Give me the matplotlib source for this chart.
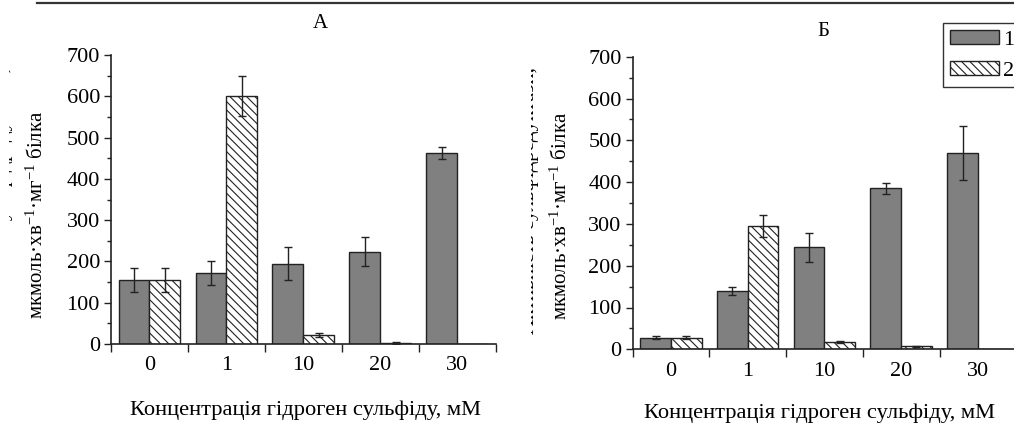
import matplotlib
matplotlib.use('Agg')
import matplotlib.pyplot as plt
from matplotlib.transforms import Bbox, TransformedBbox
from matplotlib.lines import Line2D
from matplotlib.patches import Patch
from matplotlib.ticker import MultipleLocator
import numpy as np

# ---------------- data ----------------
categories = ['0', '1', '10', '20', '30']
a_s1 = [155, 171, 194, 223, 463]
a_s1_err = [29, 29, 40, 35, 15]
a_s2 = [155, 601, 21, 3, 0]
a_s2_err = [29, 48, 5, 2, 0]
b_s1 = [28, 140, 244, 385, 470]
b_s1_err = [4, 10, 35, 14, 64]
b_s2 = [28, 295, 18, 7, 0]
b_s2_err = [4, 27, 2, 2, 0]
series_labels = ['1', '2']
panel_titles = ['А', 'Б']
xlabel = 'Концентрація гідроген сульфіду, мМ'
ylabel = 'мкмоль·хв$^{-1}$·мг$^{-1}$ білка'
ylabel_cut = 'Активність сульфідредуктази,'

# ---------------- style ----------------
plt.rcParams['font.family'] = ['Liberation Serif', 'DejaVu Serif']
plt.rcParams['mathtext.fontset'] = 'custom'
plt.rcParams['mathtext.rm'] = 'Liberation Serif'
plt.rcParams['mathtext.it'] = 'Liberation Serif:italic'
plt.rcParams['mathtext.bf'] = 'Liberation Serif:bold'
plt.rcParams['hatch.linewidth'] = 0.8
plt.rcParams['hatch.color'] = 'black'

W, H = 1014, 424
fig = plt.figure(figsize=(W / 100, H / 100), dpi=100)

def fx(px):
    return px / W

def fy(py):
    return 1 - py / H

GRAY = '#808080'
EDGE = '#222222'
HATCH = '\\\\\\\\'
FS = 16


def draw_panel(rect, s1, e1, s2, e2):
    ax = fig.add_axes(rect)
    x = np.arange(len(categories)) + 0.5
    w = 0.4
    ax.bar(x - w / 2, s1, width=w, color=GRAY, edgecolor=EDGE, linewidth=1.0, zorder=2)
    ax.bar(x + w / 2, s2, width=w, color='white', edgecolor=EDGE, linewidth=1.0,
           hatch=HATCH, zorder=2)
    s1 = np.array(s1); e1 = np.array(e1); s2 = np.array(s2); e2 = np.array(e2)
    m1 = e1 > 0
    m2 = e2 > 0
    ax.errorbar((x - w / 2)[m1], s1[m1], yerr=e1[m1], fmt='none', ecolor=EDGE,
                elinewidth=1.0, capsize=3, capthick=1.0, zorder=3)
    ax.errorbar((x + w / 2)[m2], s2[m2], yerr=e2[m2], fmt='none', ecolor=EDGE,
                elinewidth=1.0, capsize=3, capthick=1.0, zorder=3)
    ax.set_xlim(0, len(categories))
    ax.set_ylim(0, 700)
    for s in ['top', 'right']:
        ax.spines[s].set_visible(False)
    for s in ['left', 'bottom']:
        ax.spines[s].set_linewidth(1.2)
        ax.spines[s].set_color('#222222')
    ax.yaxis.set_major_locator(MultipleLocator(100))
    ax.yaxis.set_minor_locator(MultipleLocator(50))
    ax.tick_params(axis='y', which='major', direction='out', length=5, width=1.0,
                   labelsize=FS, pad=3, color='#222222')
    ax.tick_params(axis='y', which='minor', direction='out', length=3, width=1.0,
                   color='#222222')
    ax.set_xticks(np.arange(len(categories) + 1))
    ax.set_xticklabels([])
    ax.set_xticks(x, minor=True)
    ax.set_xticklabels(categories, minor=True)
    ax.tick_params(axis='x', which='major', direction='out', length=6, width=1.0,
                   color='#222222')
    ax.tick_params(axis='x', which='minor', length=0, labelsize=FS, pad=9)
    return ax

# panel A
axA = draw_panel([fx(111), fy(344), fx(495.5) - fx(111), fy(55) - fy(344)],
                 a_s1, a_s1_err, a_s2, a_s2_err)
# panel B (extends past the right edge like the scan)
axB = draw_panel([fx(632.7), fy(349.3), fx(383.5), fy(56.7) - fy(349.3)],
                 b_s1, b_s1_err, b_s2, b_s2_err)

# titles
fig.text(fx(320), fy(24), panel_titles[0], ha='center', va='center', fontsize=15)
fig.text(fx(823), fy(32), panel_titles[1], ha='center', va='center', fontsize=15)

# x labels
fig.text(fx(306), fy(410), xlabel, ha='center', va='center', fontsize=16.2)
fig.text(fx(820), fy(413), xlabel, ha='center', va='center', fontsize=16.2)

# y labels
fig.text(fx(37), fy(215), ylabel, ha='center', va='center', rotation=90, fontsize=15)
fig.text(fx(561), fy(216), ylabel, ha='center', va='center', rotation=90, fontsize=15)

# cut-off first lines of the y labels (scan is cropped)
tB = fig.text(fx(529), fy(200), ylabel_cut, ha='center', va='center', rotation=90,
              fontsize=15)
tB.set_clip_on(True)
tB.set_clip_box(TransformedBbox(Bbox([[fx(531), 0], [fx(600), 1]]), fig.transFigure))
tA = fig.text(fx(3), fy(200), ylabel_cut, ha='center', va='center', rotation=90,
              fontsize=15)
tA.set_clip_on(True)
tA.set_clip_box(TransformedBbox(Bbox([[fx(9), 0], [fx(20), 1]]), fig.transFigure))

# top rule
fig.add_artist(Line2D([fx(37), 1.0], [fy(3), fy(3)], color='#333333', linewidth=1.6))

# legend
handles = [Patch(facecolor=GRAY, edgecolor=EDGE, linewidth=1.0, label=series_labels[0]),
           Patch(facecolor='white', edgecolor=EDGE, linewidth=1.0, hatch=HATCH,
                 label=series_labels[1])]
leg = fig.legend(handles=handles, loc='upper left', bbox_to_anchor=(fx(943), fy(23)),
                 frameon=True, fancybox=False, edgecolor='black', fontsize=FS,
                 handlelength=2.2, handleheight=0.6, borderpad=0.3, labelspacing=0.5,
                 handletextpad=0.2, borderaxespad=0)
leg.get_frame().set_linewidth(1.0)

fig.savefig('out.png', dpi=100, facecolor='white')
